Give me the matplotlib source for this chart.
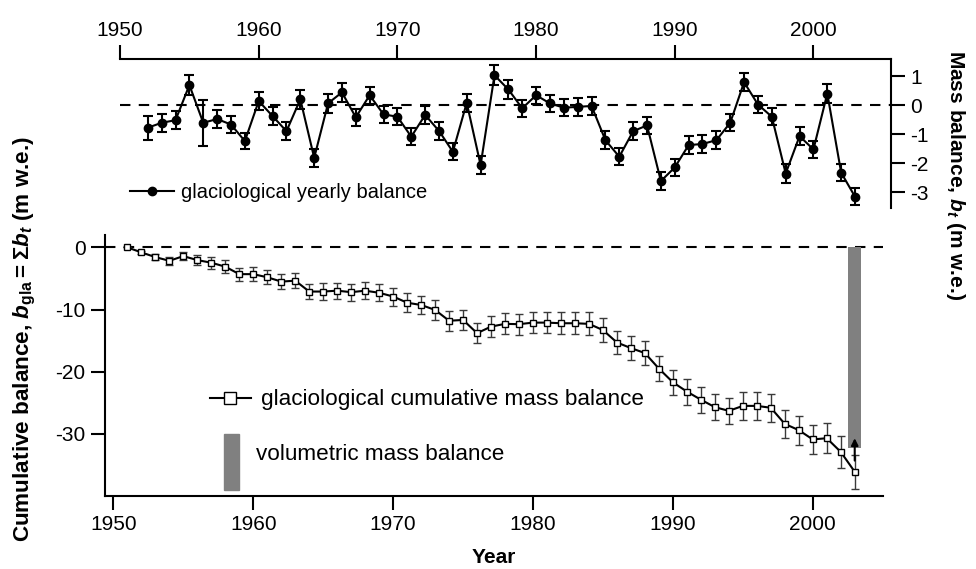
import numpy as np
import matplotlib
matplotlib.use('Agg')
import matplotlib.pyplot as plt
import matplotlib.patches as mpatches
from matplotlib.lines import Line2D
from matplotlib.legend_handler import HandlerPatch

plt.rcParams['font.family'] = ['Liberation Sans', 'DejaVu Sans']
plt.rcParams['axes.unicode_minus'] = False
plt.rcParams['mathtext.fontset'] = 'custom'
plt.rcParams['mathtext.rm'] = 'Liberation Sans:bold'
plt.rcParams['mathtext.bf'] = 'Liberation Sans:bold'
plt.rcParams['mathtext.it'] = 'Liberation Sans:bold:italic'

# yearly glaciological balance (m w.e.), 1952-2003
years_yearly = np.arange(1952, 2004)
yearly = [-0.78, -0.61, -0.52, 0.69, -0.61, -0.48, -0.67, -1.24, 0.14, -0.38,
          -0.90, 0.20, -1.82, 0.06, 0.44, -0.42, 0.34, -0.32, -0.40, -1.09,
          -0.34, -0.89, -1.61, 0.08, -2.07, 1.03, 0.54, -0.11, 0.34, 0.06,
          -0.09, -0.06, -0.03, -1.21, -1.78, -0.90, -0.70, -2.62, -2.15, -1.38,
          -1.34, -1.21, -0.61, 0.79, 0.02, -0.40, -2.36, -1.07, -1.53, 0.40,
          -2.33, -3.16]
yearly_err = [0.42, 0.32, 0.32, 0.34, 0.80, 0.30, 0.30, 0.28, 0.32, 0.30,
              0.30, 0.32, 0.30, 0.32, 0.32, 0.30, 0.30, 0.30, 0.30, 0.30,
              0.30, 0.30, 0.30, 0.32, 0.30, 0.34, 0.32, 0.30, 0.30, 0.30,
              0.30, 0.30, 0.30, 0.30, 0.30, 0.30, 0.30, 0.30, 0.30, 0.30,
              0.30, 0.30, 0.30, 0.32, 0.30, 0.30, 0.32, 0.30, 0.30, 0.34,
              0.30, 0.30]

# cumulative glaciological balance (m w.e.), 1951-2003
years_cum = np.arange(1951, 2004)
cumulative = [0, -0.8, -1.56, -2.15, -1.4, -2.04, -2.46, -3.1, -4.3, -4.3,
              -4.8, -5.5, -5.35, -7.1, -7.1, -6.96, -7.2, -6.96, -7.3, -7.9,
              -8.9, -9.26, -10.06, -11.8, -11.67, -13.8, -12.74, -12.3, -12.35, -12.1,
              -12.1, -12.2, -12.2, -12.3, -13.3, -15.3, -16.2, -17.0, -19.5, -21.7,
              -23.2, -24.5, -25.7, -26.3, -25.5, -25.5, -25.8, -28.4, -29.4, -30.9,
              -30.7, -32.9, -36.1]
cum_err = [0, 0.3, 0.45, 0.6, 0.7, 0.85, 0.95, 1.0, 1.05, 1.1,
           1.15, 1.2, 1.25, 1.25, 1.3, 1.3, 1.35, 1.4, 1.4, 1.45,
           1.5, 1.5, 1.55, 1.6, 1.6, 1.65, 1.65, 1.7, 1.7, 1.75,
           1.75, 1.8, 1.8, 1.85, 1.9, 1.9, 1.95, 2.0, 2.0, 2.05,
           2.1, 2.1, 2.15, 2.15, 2.2, 2.2, 2.25, 2.3, 2.35, 2.4,
           2.45, 2.55, 2.7]

# volumetric mass balance
vol_year = 2003
vol_value = -32.3
arrow_from = -34.3
arrow_to = -30.7

fig = plt.figure(figsize=(9.76, 5.69), dpi=100)
ax_top = fig.add_axes([0.123, 0.6344, 0.790, 0.2619])
ax = fig.add_axes([0.1076, 0.1283, 0.7968, 0.4587])

# ---- top panel: yearly balance
ax_top.axhline(0, color='black', lw=1.5, ls=(0, (5, 4)), zorder=1)
ax_top.errorbar(years_yearly, yearly, yerr=yearly_err, fmt='-o', color='black',
                lw=1.5, ms=6, capsize=3.5, elinewidth=1.5, capthick=1.5, zorder=3)
ax_top.set_xlim(1950, 2005.6)
ax_top.set_ylim(-3.55, 1.59)
ax_top.spines['left'].set_visible(False)
ax_top.spines['bottom'].set_visible(False)
for s in ['top', 'right']:
    ax_top.spines[s].set_linewidth(1.5)
ax_top.xaxis.tick_top()
ax_top.yaxis.tick_right()
ax_top.set_xticks([1950, 1960, 1970, 1980, 1990, 2000])
ax_top.set_yticks([-3, -2, -1, 0, 1])
ax_top.tick_params(direction='out', length=10, width=1.5, labelsize=15, pad=4)
dot_h = Line2D([], [], color='black', lw=1.5, marker='o', ms=6)
ax_top.legend([dot_h], ['glaciological yearly balance'],
              loc='center left', bbox_to_anchor=(130 / 976, 1 - 193 / 569),
              bbox_transform=fig.transFigure, frameon=False, fontsize=14.5,
              handlelength=2.2, handletextpad=0.35, borderpad=0, borderaxespad=0)

# ---- bottom panel: cumulative balance
ax.axhline(0, color='black', lw=1.5, ls=(0, (5, 4)), zorder=1)
ax.bar([vol_year], [vol_value], width=0.95, color='#808080', zorder=2)
ax.errorbar(years_cum, cumulative, yerr=cum_err, fmt='-s', color='black',
            mfc='white', mec='black', mew=1.0, ms=4.5, lw=1.5,
            ecolor='#3a3a3a', elinewidth=1.0, capsize=3, capthick=1.0, zorder=3)
ax.annotate('', xy=(vol_year, arrow_to), xytext=(vol_year, arrow_from),
            arrowprops=dict(arrowstyle='-|>', color='black', lw=1.5,
                            mutation_scale=10, shrinkA=0, shrinkB=0), zorder=4)
ax.set_xlim(1949.4, 2005)
ax.set_ylim(-40, 2)
ax.spines['top'].set_visible(False)
ax.spines['right'].set_visible(False)
for s in ['left', 'bottom']:
    ax.spines[s].set_linewidth(1.5)
ax.set_xticks([1950, 1960, 1970, 1980, 1990, 2000])
ax.set_yticks([-30, -20, -10, 0])
ax.tick_params(direction='out', length=10, width=1.5, labelsize=15, pad=4)
ax.set_xlabel('Year', fontsize=15, fontweight='bold', labelpad=10)


def shifted_bar(legend, orig_handle, xdescent, ydescent, width, height, fontsize):
    return mpatches.Rectangle((-xdescent, -ydescent - 0.35 * fontsize),
                              width, height)


line_h = Line2D([], [], color='black', lw=1.5, marker='s', ms=8,
                mfc='white', mec='black', mew=1.0)
bar_h = mpatches.Patch(color='#808080')
leg_line = ax.legend([line_h], ['glaciological cumulative mass balance'],
                     loc='center left', bbox_to_anchor=(210 / 976, 1 - 400 / 569),
                     bbox_transform=fig.transFigure, frameon=False, fontsize=16.2,
                     handlelength=1.8, handletextpad=0.45,
                     borderpad=0, borderaxespad=0)
ax.add_artist(leg_line)
ax.legend([bar_h], ['volumetric mass balance'],
          handler_map={bar_h: HandlerPatch(patch_func=shifted_bar)},
          loc='center left', bbox_to_anchor=(224 / 976, 1 - 453.7 / 569),
          bbox_transform=fig.transFigure, frameon=False, fontsize=16.2,
          handlelength=0.67, handleheight=3.45, handletextpad=0.75,
          borderpad=0, borderaxespad=0)

fig.text(25 / 976, 1 - 339 / 569,
         r'Cumulative balance, $b_{\mathrm{gla}} = \Sigma b_{t}$ (m w.e.)',
         rotation=90, ha='center', va='center', fontsize=16.2, fontweight='bold')
fig.text(955 / 976, 1 - 175 / 569, r'Mass balance, $b_{t}$ (m w.e.)',
         rotation=270, ha='center', va='center', fontsize=15, fontweight='bold')

fig.savefig('out.png', dpi=100)
